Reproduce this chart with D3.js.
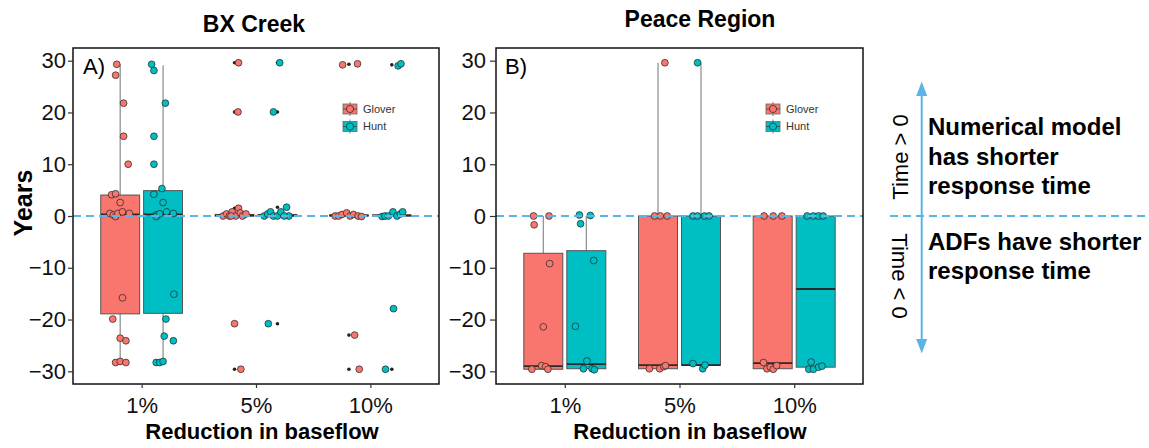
<!DOCTYPE html>
<html>
<head>
<meta charset="utf-8">
<script src="https://cdn.jsdelivr.net/npm/d3@7"></script>
<style>
  html, body { margin: 0; padding: 0; background: #fff; }
  svg { display: block; font-family: "Liberation Sans", Arial, sans-serif; }
</style>
</head>
<body>
<svg id="chart" width="1149" height="448"></svg>
<script>
// ---------------- DATA ----------------
const categories = ["1%", "5%", "10%"];
const methods = ["Glover", "Hunt"];
const methodColors = ["#F8766D", "#00BFC4"];
const panelTitles = ["BX Creek", "Peace Region"];
const panelTags = ["A)", "B)"];
const yTicks = [-30, -20, -10, 0, 10, 20, 30];
const xTitle = "Reduction in baseflow";
const yTitle = "Years";

// box stats per category: [lower whisker, q1, median, q3, upper whisker]
const bxGloverBox = [[-28.3, -18.9, 0.3, 4.05, 29.3], [-0.1, 0.0, 0.1, 0.3, 0.6], [-0.1, 0.0, 0.1, 0.2, 0.5]];
const bxHuntBox   = [[-28.3, -18.8, 0.3, 4.9, 29.1],  [-0.1, 0.0, 0.1, 0.3, 0.7], [-0.1, 0.0, 0.1, 0.2, 0.5]];
const peGloverBox = [[-29.6, -29.6, -29.0, -7.2, 0.0], [-29.5, -29.5, -28.8, 0.0, 29.6], [-29.6, -29.5, -28.4, 0.0, 0.0]];
const peHuntBox   = [[-29.5, -29.5, -28.6, -6.7, 0.0], [-29.5, -28.8, -28.8, 0.0, 29.6], [-29.6, -29.2, -14.1, 0.0, 0.0]];

// boxplot outliers: [category index, years]
const bxGloverOut = [[1, 29.6], [1, 20.1], [1, 1.5], [1, -20.8], [1, -29.6], [2, 29.3], [2, -23.0], [2, -29.6]];
const bxHuntOut   = [[1, 29.6], [1, 20.1], [1, 1.7], [1, -20.8], [2, 29.2], [2, -17.9], [2, -29.6]];
const peGloverOut = [];
const peHuntOut   = [];

// jittered observations: [category index, jitter (category units), years]
const bxGloverPts = [
  [0, -0.03, 29.3], [0, -0.04, 27.2], [0, 0.03, 21.8], [0, 0.03, 15.4], [0, 0.07, 10.0],
  [0, -0.075, 4.1], [0, -0.04, 4.3], [0, 0.0, 2.6], [0, -0.09, 0.5], [0, -0.06, 0.2],
  [0, -0.04, -0.1], [0, -0.02, 0.5], [0, 0.02, 0.8], [0, 0.08, 0.5], [0, 0.02, -15.8],
  [0, -0.065, -19.9], [0, 0.0, -23.6], [0, 0.05, -24.1], [0, -0.04, -28.3], [0, 0.0, -28.1], [0, 0.05, -28.3],
  [1, 0.035, 29.6], [1, 0.03, 20.1], [1, 0.0, -20.8], [1, 0.055, -29.6],
  [1, -0.1, 0.0], [1, -0.07, 0.4], [1, -0.045, 0.0], [1, -0.02, 0.8], [1, 0.01, 0.0],
  [1, 0.035, 1.5], [1, 0.05, 0.6], [1, 0.07, 0.0], [1, 0.1, 0.4], [1, -0.03, 0.0],
  [2, -0.055, 29.2], [2, 0.075, 29.4], [2, 0.05, -23.0], [2, 0.09, -29.6],
  [2, -0.12, 0.0], [2, -0.09, 0.0], [2, -0.06, 0.3], [2, -0.02, 0.6], [2, 0.01, 0.0],
  [2, 0.04, 0.3], [2, 0.08, 0.0], [2, 0.11, -0.1]
];
const bxHuntPts = [
  [0, -0.1, 29.3], [0, -0.08, 28.1], [0, 0.02, 21.8], [0, -0.08, 15.4], [0, -0.08, 10.0],
  [0, -0.01, 5.3], [0, -0.08, 4.2], [0, 0.0, 2.6], [0, -0.06, 0.2], [0, 0.03, 0.8],
  [0, 0.09, 0.5], [0, -0.06, -0.1], [0, -0.03, 0.4], [0, 0.095, -15.1], [0, 0.025, -19.9],
  [0, 0.01, -23.2], [0, 0.09, -24.1], [0, -0.06, -28.3], [0, -0.03, -28.3], [0, 0.0, -28.1],
  [1, 0.02, 29.6], [1, -0.035, 20.1], [1, -0.08, -20.8],
  [1, -0.115, 0.0], [1, -0.085, 0.4], [1, -0.06, 0.8], [1, -0.035, 0.0], [1, 0.0, 0.0],
  [1, 0.03, 0.8], [1, 0.08, 1.7], [1, 0.1, 0.0], [1, 0.06, 0.0],
  [2, 0.055, 29.0], [2, 0.08, 29.4], [2, 0.015, -17.9], [2, -0.055, -29.6],
  [2, -0.085, -0.1], [2, -0.06, 0.0], [2, -0.03, 0.0], [2, 0.01, 0.8], [2, 0.045, 0.0],
  [2, 0.075, 0.4], [2, 0.095, 0.8]
];
const peGloverPts = [
  [0, -0.085, 0.0], [0, 0.05, 0.0], [0, -0.08, -1.7], [0, 0.055, -9.2], [0, 0.0, -21.4],
  [0, -0.1, -29.6], [0, -0.015, -28.9], [0, 0.02, -29.1], [0, 0.04, -29.6],
  [1, 0.06, 29.6], [1, -0.03, 0.0], [1, 0.02, 0.0], [1, 0.08, 0.0],
  [1, -0.075, -29.5], [1, 0.015, -29.5], [1, 0.05, -29.1], [1, 0.065, -28.9],
  [2, -0.075, 0.0], [2, 0.005, 0.0], [2, 0.08, 0.0],
  [2, -0.08, -28.3], [2, -0.05, -29.5], [2, -0.02, -29.2], [2, 0.005, -29.6], [2, 0.035, -28.9]
];
const peHuntPts = [
  [0, -0.06, 0.2], [0, 0.035, 0.1], [0, -0.05, -1.5], [0, 0.065, -8.6], [0, -0.095, -21.3],
  [0, 0.005, -28.0], [0, -0.025, -29.5], [0, 0.05, -29.5], [0, 0.07, -29.7],
  [1, -0.03, 29.6], [1, -0.07, 0.0], [1, -0.03, 0.0], [1, 0.03, 0.0], [1, 0.07, 0.0],
  [1, -0.07, -28.5], [1, 0.015, -29.5], [1, 0.035, -28.8],
  [2, -0.075, 0.0], [2, -0.02, 0.0], [2, 0.025, 0.0], [2, 0.065, 0.0],
  [2, -0.04, -28.2], [2, -0.06, -29.6], [2, -0.02, -29.6], [2, 0.025, -29.2], [2, 0.055, -29.0]
];

// annotation text
const upperLabel = ["Numerical model", "has shorter", "response time"];
const lowerLabel = ["ADFs have shorter", "response time"];
const upperArrowLabel = "Time > 0";
const lowerArrowLabel = "Time < 0";

// ---------------- LAYOUT ----------------
const svg = d3.select("#chart");
const FONT = '"Liberation Sans", Arial, sans-serif';
const lineBlue = "#5AB4E6";
const plotTop = 48, plotBottom = 384;

const panels = [
  { left: 73, right: 439, boxes: [bxGloverBox, bxHuntBox], outs: [bxGloverOut, bxHuntOut], pts: [bxGloverPts, bxHuntPts],
    titleX: 254, titleY: 32, xTitleX: 262, tagX: 83, tickPad: 2, tickSize: 5, legendX: 343 },
  { left: 496, right: 863, boxes: [peGloverBox, peHuntBox], outs: [peGloverOut, peHuntOut], pts: [peGloverPts, peHuntPts],
    titleX: 700, titleY: 27, xTitleX: 690, tagX: 505, tickPad: 4, tickSize: 6, legendX: 766 }
];

const y = d3.scaleLinear().domain([-32.45, 32.45]).range([plotBottom, plotTop]);

panels.forEach((p, pi) => {
  const x = d3.scalePoint().domain(categories).range([p.left, p.right]).padding(0.6);
  const step = x.step();
  const dodge = 0.1875 * step;
  const bw = 0.34 * step;
  const g = svg.append("g");

  // boxes
  p.boxes.forEach((boxArr, mi) => {
    boxArr.forEach((s, ci) => {
      const cx = x(categories[ci]) + (mi === 0 ? -dodge : dodge);
      const [lo, q1, med, q3, hi] = s;
      g.append("line").attr("x1", cx).attr("x2", cx).attr("y1", y(hi)).attr("y2", y(q3))
        .attr("stroke", "#8a8a8a").attr("stroke-width", 1.2);
      g.append("line").attr("x1", cx).attr("x2", cx).attr("y1", y(q1)).attr("y2", y(lo))
        .attr("stroke", "#8a8a8a").attr("stroke-width", 1.2);
      g.append("rect").attr("x", cx - bw / 2).attr("width", bw)
        .attr("y", y(q3)).attr("height", Math.max(0.8, y(q1) - y(q3)))
        .attr("fill", methodColors[mi]).attr("stroke", "#555").attr("stroke-width", 1);
      g.append("line").attr("x1", cx - bw / 2).attr("x2", cx + bw / 2).attr("y1", y(med)).attr("y2", y(med))
        .attr("stroke", "#2a2a2a").attr("stroke-width", 1.8);
    });
  });

  // outliers
  p.outs.forEach((arr, mi) => {
    g.selectAll(null).data(arr).enter().append("circle")
      .attr("cx", d => x(categories[d[0]]) + (mi === 0 ? -dodge : dodge))
      .attr("cy", d => y(d[1])).attr("r", 1.8).attr("fill", "#222");
  });

  // jittered points
  p.pts.forEach((arr, mi) => {
    g.selectAll(null).data(arr).enter().append("circle")
      .attr("cx", d => x(categories[d[0]]) + (mi === 0 ? -dodge : dodge) + d[1] * step)
      .attr("cy", d => y(d[2])).attr("r", 3.4)
      .attr("fill", methodColors[mi]).attr("stroke", "#222").attr("stroke-width", 0.7);
  });

  // zero line
  g.append("line").attr("x1", p.left).attr("x2", p.right).attr("y1", y(0)).attr("y2", y(0))
    .attr("stroke", lineBlue).attr("stroke-width", 2).attr("stroke-dasharray", "8,5");

  // border
  g.append("rect").attr("x", p.left).attr("y", plotTop).attr("width", p.right - p.left).attr("height", plotBottom - plotTop)
    .attr("fill", "none").attr("stroke", "#111").attr("stroke-width", 1.5);

  // axes
  const ya = svg.append("g").attr("transform", `translate(${p.left},0)`)
    .call(d3.axisLeft(y).tickValues(yTicks).tickSize(p.tickSize).tickPadding(p.tickPad));
  ya.select(".domain").remove();
  ya.selectAll("line").attr("stroke", "#333").attr("stroke-width", 1.2);
  ya.selectAll("text").attr("font-family", FONT).attr("font-size", 22).attr("fill", "#111");

  const xa = svg.append("g").attr("transform", `translate(0,${plotBottom})`)
    .call(d3.axisBottom(x).tickSize(4).tickPadding(9));
  xa.select(".domain").remove();
  xa.selectAll("line").attr("stroke", "#333").attr("stroke-width", 1.2);
  xa.selectAll("text").attr("font-family", FONT).attr("font-size", 22).attr("fill", "#111");

  // titles
  svg.append("text").attr("x", p.titleX).attr("y", p.titleY).attr("text-anchor", "middle")
    .attr("font-family", FONT).attr("font-weight", "bold").attr("font-size", 23).text(panelTitles[pi]);
  svg.append("text").attr("x", p.xTitleX).attr("y", 439).attr("text-anchor", "middle")
    .attr("font-family", FONT).attr("font-weight", "bold").attr("font-size", 22).text(xTitle);
  svg.append("text").attr("x", p.tagX).attr("y", 74)
    .attr("font-family", FONT).attr("font-size", 22).text(panelTags[pi]);

  // legend
  methods.forEach((m, mi) => {
    const ly = 109 + mi * 17.5;
    const lx = p.legendX;
    const lg = svg.append("g");
    lg.append("line").attr("x1", lx + 7).attr("x2", lx + 7).attr("y1", ly - 7).attr("y2", ly + 7)
      .attr("stroke", "#777").attr("stroke-width", 1);
    lg.append("rect").attr("x", lx).attr("y", ly - 5).attr("width", 14).attr("height", 10)
      .attr("fill", methodColors[mi]).attr("stroke", "#666").attr("stroke-width", 0.8);
    lg.append("line").attr("x1", lx).attr("x2", lx + 14).attr("y1", ly).attr("y2", ly)
      .attr("stroke", "#444").attr("stroke-width", 0.8);
    lg.append("circle").attr("cx", lx + 7).attr("cy", ly).attr("r", 3.6)
      .attr("fill", methodColors[mi]).attr("stroke", "#222").attr("stroke-width", 0.7);
    lg.append("text").attr("x", lx + 20).attr("y", ly).attr("dy", "0.35em")
      .attr("font-family", FONT).attr("font-size", 11).attr("fill", "#333").text(m);
  });
});

// y title
svg.append("text").attr("transform", "translate(32,203) rotate(-90)").attr("text-anchor", "middle")
  .attr("font-family", FONT).attr("font-weight", "bold").attr("font-size", 25).text(yTitle);

// ---------------- RIGHT ANNOTATION ----------------
const ax = 921.7;
const ann = svg.append("g");
ann.append("line").attr("x1", 890).attr("x2", 1149).attr("y1", y(0)).attr("y2", y(0))
  .attr("stroke", lineBlue).attr("stroke-width", 2).attr("stroke-dasharray", "8,5");
ann.append("line").attr("x1", ax).attr("x2", ax).attr("y1", 94).attr("y2", 341)
  .attr("stroke", lineBlue).attr("stroke-width", 2);
ann.append("path").attr("d", `M${ax},81.5 L${ax - 5.5},96 L${ax + 5.5},96 Z`).attr("fill", lineBlue);
ann.append("path").attr("d", `M${ax},353.5 L${ax - 5.5},339 L${ax + 5.5},339 Z`).attr("fill", lineBlue);

upperLabel.forEach((t, i) => {
  ann.append("text").attr("x", 928).attr("y", 135 + i * 29.5)
    .attr("font-family", FONT).attr("font-weight", "bold").attr("font-size", 24).text(t);
});
lowerLabel.forEach((t, i) => {
  ann.append("text").attr("x", 928).attr("y", 250 + i * 28.5)
    .attr("font-family", FONT).attr("font-weight", "bold").attr("font-size", 24).text(t);
});
ann.append("text").attr("transform", "translate(908,157) rotate(-90)").attr("text-anchor", "middle")
  .attr("font-family", FONT).attr("font-size", 22).text(upperArrowLabel);
ann.append("text").attr("transform", "translate(892,276) rotate(90)").attr("text-anchor", "middle")
  .attr("font-family", FONT).attr("font-size", 22).text(lowerArrowLabel);
</script>
</body>
</html>
